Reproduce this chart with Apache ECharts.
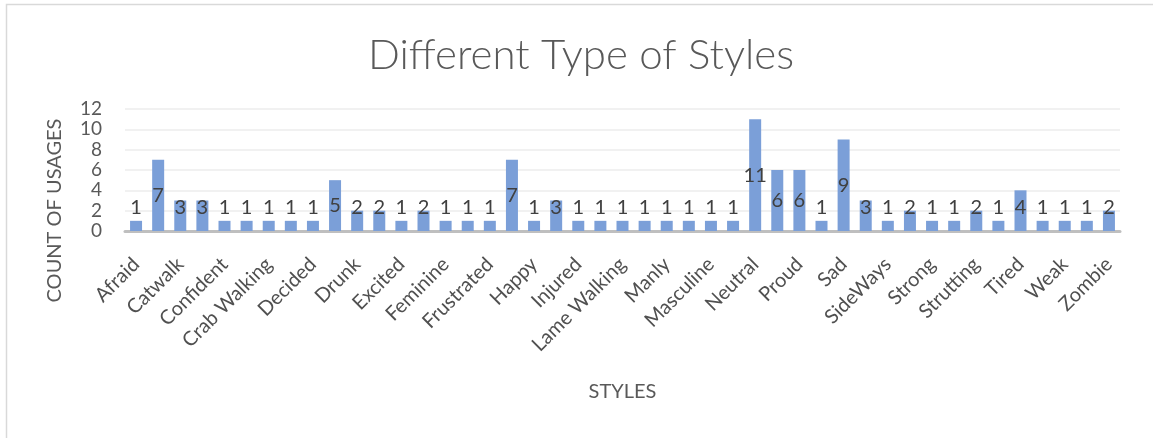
<!DOCTYPE html>
<html>
<head>
<meta charset="utf-8">
<script src="https://cdn.jsdelivr.net/npm/echarts@6/dist/echarts.min.js"></script>
<style>
html,body{margin:0;padding:0;background:#fff;}
#chart{width:1153px;height:438px;}
</style>
</head>
<body>
<div id="chart"></div>
<script>
// Categories (every other one labelled in the reference)
const categories = [
  "Afraid","Angry","Catwalk","Childish","Confident","Cool","Crab Walking","Crazy",
  "Decided","Depressed","Drunk","Elderly","Excited","Exhausted","Feminine","Flirty",
  "Frustrated","Gangster","Happy","Hurried","Injured","Lame","Lame Walking","Lazy",
  "Manly","March","Masculine","Model","Neutral","Old","Proud","Robot","Sad","Scared",
  "SideWays","Sneaky","Strong","Stumbling","Strutting","Sway","Tired","Walking",
  "Weak","Wounded","Zombie"
];
const counts = [
  1,7,3,3,1,1,1,1,1,5,2,2,1,2,1,1,1,7,1,3,1,1,1,1,1,1,1,1,11,6,6,1,9,3,1,2,1,1,2,1,4,1,1,1,2
];
const yTicks = { min: 0, max: 12, interval: 2 };
const titleText = "Different Type of Styles";
const xTitle = "STYLES";
const yTitle = "COUNT OF USAGES";

const FONT = "Lato";
const barData = counts.map(v => ({
  value: v,
  label: v >= 5 ? { position: 'inside' } : { position: 'insideBottom', distance: 13 }
}));

const chart = echarts.init(document.getElementById('chart'), null, {renderer: 'canvas'});
chart.setOption({
  animation: false,
  backgroundColor: '#ffffff',
  title: {
    text: titleText,
    left: 576,
    textAlign: 'center',
    top: 29,
    textStyle: { fontFamily: FONT, fontWeight: 300, fontSize: 42, color: '#595959' }
  },
  graphic: [{
    type: 'rect',
    shape: { x: 6.5, y: 4.5, width: 1300, height: 600 },
    style: { fill: 'none', stroke: '#d9d9d9', lineWidth: 1.5 },
    silent: true
  }],
  grid: { left: 125, right: 33, top: 109, bottom: 207 },
  xAxis: {
    type: 'category',
    data: categories,
    name: xTitle,
    nameLocation: 'middle',
    nameGap: 151,
    nameTextStyle: { fontFamily: FONT, fontSize: 20, color: '#595959' },
    axisLine: { lineStyle: { color: '#bfbfbf', width: 3 } },
    axisTick: { show: false },
    axisLabel: {
      interval: 1, rotate: 45, margin: 30,
      fontFamily: FONT, fontSize: 20, color: '#505050'
    }
  },
  yAxis: {
    type: 'value',
    min: yTicks.min, max: yTicks.max, interval: yTicks.interval,
    name: yTitle,
    nameLocation: 'middle',
    nameRotate: 90,
    nameGap: 60,
    nameTextStyle: { fontFamily: FONT, fontSize: 20, color: '#595959', padding: [0, 81, 0, 0] },
    axisLine: { show: false },
    axisTick: { show: false },
    axisLabel: { margin: 23, fontFamily: FONT, fontSize: 19, color: '#595959' },
    splitLine: { lineStyle: { color: '#ececec', width: 1.5 } }
  },
  series: [{
    type: 'bar',
    data: barData,
    barWidth: 12,
    itemStyle: { color: '#7B9FD8' },
    label: {
      show: true,
      fontFamily: FONT, fontSize: 20, color: '#404040'
    }
  }]
});
</script>
</body>
</html>
